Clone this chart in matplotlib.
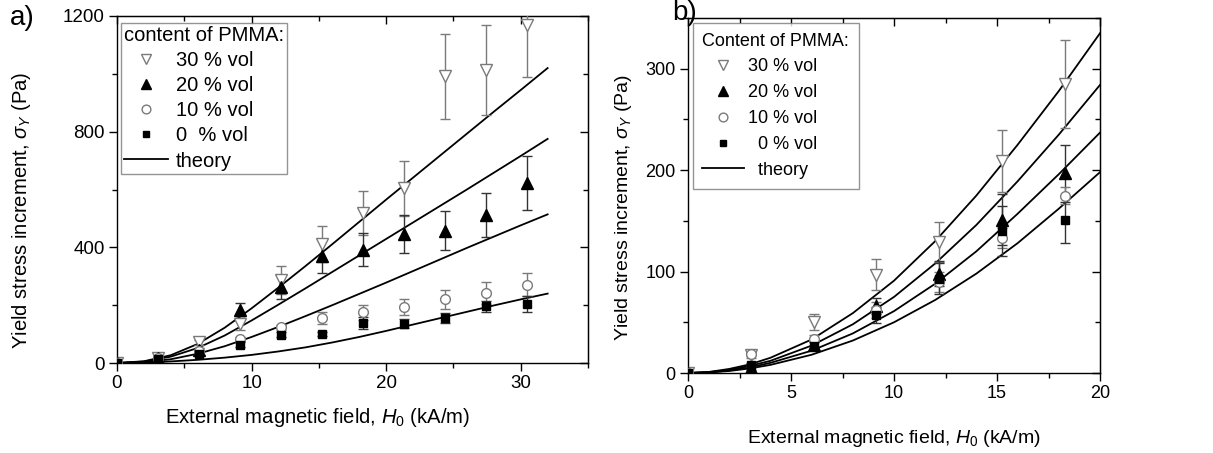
import matplotlib
matplotlib.use("Agg")
import matplotlib.pyplot as plt
from matplotlib.lines import Line2D
from matplotlib.ticker import MultipleLocator

plt.rcParams['font.family'] = ['Liberation Sans', 'DejaVu Sans']
plt.rcParams['mathtext.fontset'] = 'custom'
plt.rcParams['mathtext.rm'] = 'Liberation Sans'
plt.rcParams['mathtext.it'] = 'Liberation Sans:italic'

# ---------------- data: panel a ----------------
a_field = [0, 3.05, 6.1, 9.15, 12.2, 15.25, 18.3, 21.35, 24.4, 27.45, 30.5]
a_30 = [0, 17, 71, 135, 288, 412, 519, 605, 991, 1014, 1170]
a_30_err = [0, 5, 10, 20, 48, 62, 77, 95, 148, 155, 180]
a_20 = [0, 17, 44, 184, 263, 369, 392, 446, 458, 511, 622]
a_20_err = [0, 4, 8, 23, 40, 58, 56, 67, 68, 76, 93]
a_10 = [0, 17, 40, 83, 123, 156, 175, 194, 221, 242, 271]
a_10_err = [0, 3, 5, 8, 10, 20, 27, 27, 33, 37, 40]
a_0 = [0, 14, 31, 63, 98, 100, 138, 136, 156, 196, 205]
a_0_err = [0, 3, 5, 8, 8, 8, 20, 15, 18, 20, 28]

a_theory_x = [0, 2, 4, 6, 8, 10, 12, 14, 16, 18, 20, 22, 24, 26, 28, 30, 32]
a_theory_30 = [0, 6, 27, 66, 122, 189, 261, 335, 411, 488, 565, 641, 717, 793, 869, 944, 1020]
a_theory_20 = [0, 5, 22, 52, 95, 147, 202, 258, 315, 372, 429, 486, 543, 600, 658, 716, 775]
a_theory_10 = [0, 3, 13, 32, 58, 90, 125, 162, 200, 239, 278, 318, 358, 398, 437, 476, 514]
a_theory_0 = [0, 1.5, 5.5, 11, 18.5, 28, 40, 54, 71, 90, 111, 133, 155, 177, 199, 220, 240]

# ---------------- data: panel b ----------------
b_field = [0, 3.05, 6.1, 9.15, 12.2, 15.25, 18.3]
b_30 = [0, 18, 50, 97, 129, 209, 285]
b_30_err = [0, 3, 8, 15, 20, 31, 43]
b_20 = [0, 5, 28, 66, 98, 151, 197]
b_20_err = [0, 2, 4, 8, 12, 25, 28]
b_10 = [0, 19, 34, 62, 90, 133, 175]
b_10_err = [0, 2, 3, 8, 10, 10, 8]
b_0 = [0, 8, 27, 57, 93, 140, 151]
b_0_err = [0, 2, 4, 8, 15, 25, 23]

b_theory_x = [0, 1, 2, 3, 4, 6, 8, 10, 12, 14, 16, 18, 20]
b_theory_30 = [0, 1, 4, 8.5, 15, 33, 59, 91, 130, 175, 225, 278, 335]
b_theory_20 = [0, 0.8, 3, 7, 12, 27, 48, 75, 108, 146, 189, 235, 284]
b_theory_10 = [0, 0.6, 2.5, 5.5, 10, 22, 39, 61, 88, 120, 157, 196, 237]
b_theory_0 = [0, 0.5, 2, 4.5, 8, 18, 32, 50, 72, 98, 128, 162, 198]

labels_a = ["30 % vol", "20 % vol", "10 % vol", "0  % vol", "theory"]
labels_b = ["30 % vol", "20 % vol", "10 % vol", "  0 % vol", "  theory"]

GRAY = '#7a7a7a'
styles = [
    dict(marker='v', mfc='white', mec=GRAY, ms=8, ecolor=GRAY),
    dict(marker='^', mfc='black', mec='black', ms=8, ecolor='#333333'),
    dict(marker='o', mfc='white', mec=GRAY, ms=7, ecolor=GRAY),
    dict(marker='s', mfc='black', mec='black', ms=5.5, ecolor='#333333'),
]

W, H = 1213, 453
fig = plt.figure(figsize=(W / 100, H / 100), dpi=100)

def px_axes(l, t, r, b):
    return fig.add_axes([l / W, 1 - b / H, (r - l) / W, (b - t) / H])

ax_a = px_axes(117, 16, 588, 363)
ax_b = px_axes(688, 18, 1100, 373)

def draw(ax, x, series, errs, tx, theories, legend_labels, ms_scale):
    for y in theories:
        ax.plot(tx, y, color='black', lw=1.3, zorder=2)
    for y, e, st in zip(series, errs, styles):
        ax.errorbar(x, y, yerr=e, fmt='none', ecolor=st['ecolor'], elinewidth=1.0,
                    capsize=3.5, capthick=1.0, zorder=3)
        ax.plot(x, y, linestyle='none', marker=st['marker'], mfc=st['mfc'],
                mec=st['mec'], ms=st['ms'], mew=1.0, zorder=4)
    handles = []
    for st, lab in zip(styles, legend_labels[:4]):
        handles.append(Line2D([], [], linestyle='none', marker=st['marker'], mfc=st['mfc'],
                              mec=st['mec'], ms=st['ms'] * ms_scale, mew=1.0, label=lab))
    handles.append(Line2D([], [], color='black', lw=1.3, label=legend_labels[4]))
    return handles

h_a = draw(ax_a, a_field, [a_30, a_20, a_10, a_0], [a_30_err, a_20_err, a_10_err, a_0_err],
           a_theory_x, [a_theory_30, a_theory_20, a_theory_10, a_theory_0], labels_a, 0.9)
h_b = draw(ax_b, b_field, [b_30, b_20, b_10, b_0], [b_30_err, b_20_err, b_10_err, b_0_err],
           b_theory_x, [b_theory_30, b_theory_20, b_theory_10, b_theory_0], labels_b, 0.9)

ax_a.set_xlim(0, 35)
ax_a.set_ylim(0, 1200)
ax_a.xaxis.set_major_locator(MultipleLocator(10))
ax_a.xaxis.set_minor_locator(MultipleLocator(5))
ax_a.yaxis.set_major_locator(MultipleLocator(400))
ax_a.yaxis.set_minor_locator(MultipleLocator(200))

ax_b.set_xlim(0, 20)
ax_b.set_ylim(0, 350)
ax_b.xaxis.set_major_locator(MultipleLocator(5))
ax_b.xaxis.set_minor_locator(MultipleLocator(2.5))
ax_b.yaxis.set_major_locator(MultipleLocator(100))
ax_b.yaxis.set_minor_locator(MultipleLocator(50))

for ax, fs, lfs in [(ax_a, 13.5, 14.6), (ax_b, 13, 14)]:
    for s in ax.spines.values():
        s.set_linewidth(1.0)
    ax.tick_params(which='both', direction='out', labelsize=fs, width=1.0, pad=3)
    ax.tick_params(which='major', length=6)
    ax.tick_params(which='minor', length=3.5)
    sx = ax.secondary_xaxis('top')
    sx.xaxis.set_major_locator(ax.xaxis.get_major_locator())
    sx.xaxis.set_minor_locator(ax.xaxis.get_minor_locator())
    sx.tick_params(which='both', direction='in', labeltop=False, width=1.0)
    sx.tick_params(which='major', length=6)
    sx.tick_params(which='minor', length=3.5)
    sy = ax.secondary_yaxis('right')
    sy.yaxis.set_major_locator(ax.yaxis.get_major_locator())
    sy.yaxis.set_minor_locator(ax.yaxis.get_minor_locator())
    sy.tick_params(which='both', direction='in', labelright=False, width=1.0)
    sy.tick_params(which='major', length=6)
    sy.tick_params(which='minor', length=3.5)
    ax.set_xlabel(r"External magnetic field, $H_0$ (kA/m)", fontsize=lfs)
    ax.set_ylabel(r"Yield stress increment, $\sigma_Y$ (Pa)", fontsize=lfs)

# label placement (axes coordinates)
ax_a.xaxis.set_label_coords(0.425, -0.125)
ax_a.yaxis.set_label_coords(-0.178, 0.44)
ax_b.xaxis.set_label_coords(0.5, -0.155)
ax_b.yaxis.set_label_coords(-0.131, 0.465)

leg_a = ax_a.legend(handles=h_a, title="content of PMMA:", loc='upper left',
                    bbox_to_anchor=(0.008, 0.979), borderaxespad=0, fontsize=14.5,
                    title_fontsize=14.5, frameon=True, fancybox=False, edgecolor=GRAY,
                    handlelength=2.2, handletextpad=0.4, labelspacing=0.30,
                    borderpad=0.15, alignment='left')
leg_a.get_frame().set_linewidth(1.0)

leg_b = ax_b.legend(handles=h_b, title="Content of PMMA:", loc='upper left',
                    bbox_to_anchor=(0.011, 0.987), borderaxespad=0, fontsize=13,
                    title_fontsize=13, frameon=True, fancybox=False, edgecolor=GRAY,
                    handlelength=2.3, handletextpad=0.2, labelspacing=0.49,
                    borderpad=0.55, alignment='left')
leg_b.get_frame().set_linewidth(1.0)

fig.text(10 / W, 1 - 18 / H, "a)", fontsize=20, va='center', ha='left')
fig.text(672 / W, 1 - 13 / H, "b)", fontsize=20, va='center', ha='left')

fig.savefig("out.png", dpi=100)
